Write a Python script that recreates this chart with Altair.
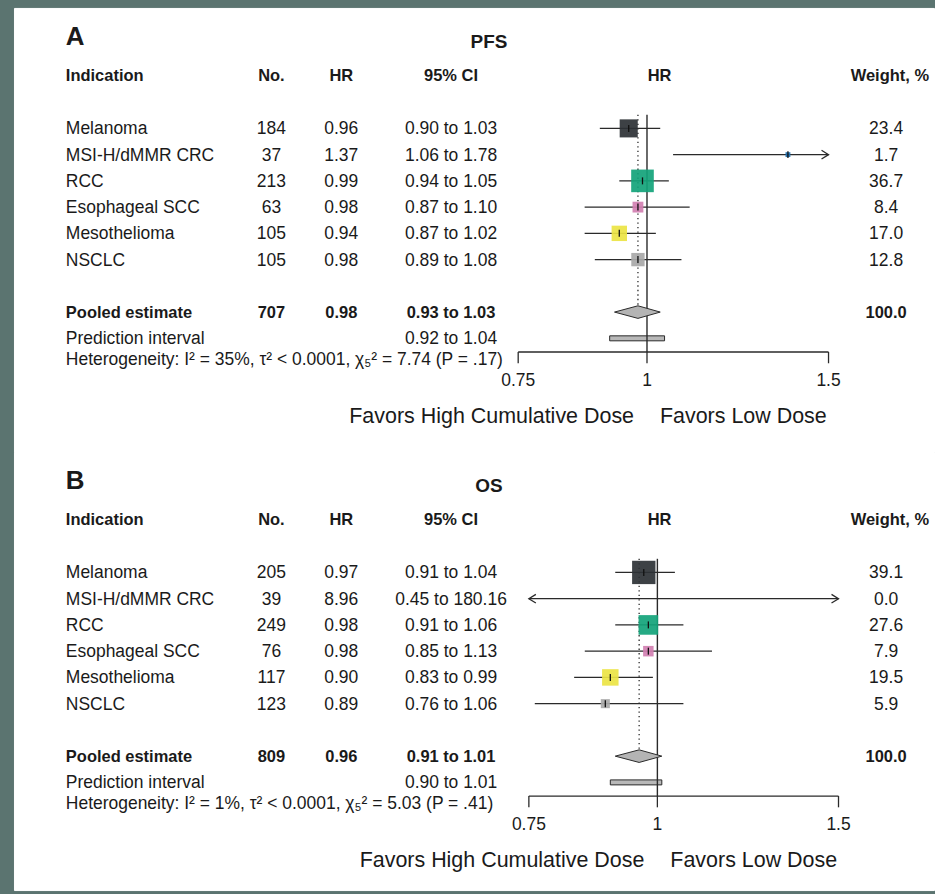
import altair as alt
import pandas as pd

# ---------------- data ----------------
indications = ["Melanoma", "MSI-H/dMMR CRC", "RCC", "Esophageal SCC", "Mesothelioma", "NSCLC"]
header_labels = ["Indication", "No.", "HR", "95% CI", "HR", "Weight, %"]
pooled_label = "Pooled estimate"
prediction_label = "Prediction interval"

pfs_n = [184, 37, 213, 63, 105, 105]
pfs_hr = [0.96, 1.37, 0.99, 0.98, 0.94, 0.98]
pfs_lo = [0.90, 1.06, 0.94, 0.87, 0.87, 0.89]
pfs_hi = [1.03, 1.78, 1.05, 1.10, 1.02, 1.08]
pfs_weight = [23.4, 1.7, 36.7, 8.4, 17.0, 12.8]
pfs_pooled = [707, 0.98, 0.93, 1.03, 100.0]   # n, HR, low, high, weight
pfs_prediction = [0.92, 1.04]
pfs_het = "Heterogeneity: I\u00b2 = 35%, \u03c4\u00b2 < 0.0001, \u03c7\u2085\u00b2 = 7.74 (P = .17)"

os_n = [205, 39, 249, 76, 117, 123]
os_hr = [0.97, 8.96, 0.98, 0.98, 0.90, 0.89]
os_lo = [0.91, 0.45, 0.91, 0.85, 0.83, 0.76]
os_hi = [1.04, 180.16, 1.06, 1.13, 0.99, 1.06]
os_weight = [39.1, 0.0, 27.6, 7.9, 19.5, 5.9]
os_pooled = [809, 0.96, 0.91, 1.01, 100.0]
os_prediction = [0.90, 1.01]
os_het = "Heterogeneity: I\u00b2 = 1%, \u03c4\u00b2 < 0.0001, \u03c7\u2085\u00b2 = 5.03 (P = .41)"

tick_values = [0.75, 1.0, 1.5]
tick_labels = ["0.75", "1", "1.5"]
favors_labels = ["Favors High Cumulative Dose", "Favors Low Dose"]

# ---------------- style ----------------
palette = ["#2c3135", "#1f70b0", "#12a37a", "#d17fb1", "#ece444", "#a8a8a8"]
FONT = "Liberation Sans"
INK = "#1a1a1a"
LINE = "#2a2a2a"
ROW = 26.3          # px per table row
ROW0 = 120.7        # px from panel top to first data row
W = 922
XMIN, XMAX = 0.75, 1.5


def panel(letter, title, n, hr, lo, hi, wt, pooled, pred, het, xrange, height):
    ys = alt.Scale(domain=[-ROW0 / ROW, (height - ROW0) / ROW], range=[0, height], nice=False, zero=False)
    xs = alt.Scale(type="log", domain=[XMIN, XMAX], range=list(xrange), nice=False)

    def X(f):
        return alt.X(f, scale=xs, axis=None)

    def Y(f):
        return alt.Y(f, scale=ys, axis=None)

    def text_layer(data, field, x, row="row", align="center", bold=False, size=17.5, dy=1):
        return alt.Chart(data).mark_text(
            font=FONT, fontSize=size, fontWeight="bold" if bold else "normal",
            align=align, baseline="middle", color=INK, dy=dy,
        ).encode(x=alt.value(x), y=Y(f"{row}:Q"), text=f"{field}:N")

    def one(s, r):
        return pd.DataFrame({"t": [s], "row": [r]})

    df = pd.DataFrame({
        "ind": indications, "row": list(range(len(indications))),
        "n": n, "hr": hr, "lo": lo, "hi": hi, "w": wt,
    })
    df["n_t"] = df["n"].astype(str)
    df["hr_t"] = [f"{v:.2f}" for v in hr]
    df["ci_t"] = [f"{a:.2f} to {b:.2f}" for a, b in zip(lo, hi)]
    df["w_t"] = [f"{v:.1f}" for v in wt]
    df["lo_c"] = df["lo"].clip(XMIN, XMAX)
    df["hi_c"] = df["hi"].clip(XMIN, XMAX)
    vis = df[(df["hr"] >= XMIN) & (df["hr"] <= XMAX)]
    sq = vis[vis["w"] > 0]
    arr_r = df[df["hi"] > XMAX]
    arr_l = df[df["lo"] < XMIN]

    p_n, p_hr, p_lo, p_hi, p_w = pooled
    pooled_row, pred_row = 7, 8
    axis_row = 8.52
    top_row = -0.52
    dh = 0.24

    layers = []
    # titles and headers
    layers.append(text_layer(one(letter, -3.5), "t", 52, align="left", bold=True, size=26, dy=0))
    layers.append(text_layer(one(title, -3.3), "t", 476, bold=True, size=19, dy=0))
    hx = [(52, "left"), (258, "center"), (328, "center"), (438, "center"), (647, "center"), (917, "right")]
    for lab, (x, al) in zip(header_labels, hx):
        layers.append(text_layer(one(lab, -1.96), "t", x, align=al, bold=True, size=16.5, dy=-1))

    # study rows
    layers.append(text_layer(df, "ind", 52, align="left"))
    layers.append(text_layer(df, "n_t", 258))
    layers.append(text_layer(df, "hr_t", 328))
    layers.append(text_layer(df, "ci_t", 438))
    layers.append(text_layer(df, "w_t", 874))

    # pooled / prediction
    layers.append(text_layer(one(pooled_label, pooled_row), "t", 52, align="left", bold=True, size=16.5))
    layers.append(text_layer(one(str(p_n), pooled_row), "t", 258, bold=True, size=16.5))
    layers.append(text_layer(one(f"{p_hr:.2f}", pooled_row), "t", 328, bold=True, size=16.5))
    layers.append(text_layer(one(f"{p_lo:.2f} to {p_hi:.2f}", pooled_row), "t", 438, bold=True, size=16.5))
    layers.append(text_layer(one(f"{p_w:.1f}", pooled_row), "t", 874, bold=True, size=16.5))
    layers.append(text_layer(one(prediction_label, pred_row), "t", 52, align="left"))
    layers.append(text_layer(one(f"{pred[0]:.2f} to {pred[1]:.2f}", pred_row), "t", 438))
    layers.append(text_layer(one(het, 8.84), "t", 52, align="left", dy=0))

    # ---- forest ----
    # prediction interval bar
    dpred = pd.DataFrame({"a": [pred[0]], "b": [pred[1]], "y1": [pred_row - 0.095], "y2": [pred_row + 0.095]})
    layers.append(alt.Chart(dpred).mark_rect(fill="#b8b8b8", stroke=LINE, strokeWidth=1).encode(
        x=X("a:Q"), x2=alt.X2("b:Q"), y=Y("y1:Q"), y2=alt.Y2("y2:Q")))
    # line of no effect
    dv = pd.DataFrame({"x": [1.0], "y1": [top_row], "y2": [axis_row]})
    layers.append(alt.Chart(dv).mark_rule(color=LINE, strokeWidth=1.4).encode(
        x=X("x:Q"), y=Y("y1:Q"), y2=alt.Y2("y2:Q")))
    # pooled dotted
    dd = pd.DataFrame({"x": [p_hr], "y1": [top_row], "y2": [pooled_row - dh]})
    layers.append(alt.Chart(dd).mark_rule(color=LINE, strokeWidth=1.3, strokeDash=[1.3, 3.2]).encode(
        x=X("x:Q"), y=Y("y1:Q"), y2=alt.Y2("y2:Q")))
    # CI lines
    layers.append(alt.Chart(df).mark_rule(color=LINE, strokeWidth=1.3).encode(
        x=X("lo_c:Q"), x2=alt.X2("hi_c:Q"), y=Y("row:Q")))
    # arrows
    if len(arr_r):
        layers.append(alt.Chart(arr_r).mark_point(shape="M-1,-0.62L0,0L-1,0.62", size=196, filled=False,
                                                  color=LINE, strokeWidth=1.3, opacity=1).encode(
            x=X("hi_c:Q"), y=Y("row:Q")))
    if len(arr_l):
        layers.append(alt.Chart(arr_l).mark_point(shape="M1,-0.62L0,0L1,0.62", size=196, filled=False,
                                                  color=LINE, strokeWidth=1.3, opacity=1).encode(
            x=X("lo_c:Q"), y=Y("row:Q")))
    # diamond
    ddia = pd.DataFrame({"x": [p_lo, p_hr, p_hi],
                         "ya": [pooled_row, pooled_row - dh, pooled_row],
                         "yb": [pooled_row, pooled_row + dh, pooled_row]})
    layers.append(alt.Chart(ddia).mark_area(orient="vertical", fill="#b4b4b4", stroke=LINE,
                                            strokeWidth=1, opacity=1).encode(
        x=X("x:Q"), y=Y("ya:Q"), y2=alt.Y2("yb:Q")))
    # squares
    layers.append(alt.Chart(sq).mark_square(opacity=0.92).encode(
        x=X("hr:Q"), y=Y("row:Q"),
        size=alt.Size("w:Q", scale=alt.Scale(domain=[0, 100], range=[0, 1400]), legend=None),
        color=alt.Color("ind:N", scale=alt.Scale(domain=indications, range=palette), legend=None)))
    # point-estimate ticks
    layers.append(alt.Chart(vis).mark_point(shape="M0,-1L0,1", size=49, filled=False, color="#111111",
                                            strokeWidth=1.3, opacity=1).encode(
        x=X("hr:Q"), y=Y("row:Q")))

    # axis
    dax = pd.DataFrame({"a": [XMIN], "b": [XMAX], "y": [axis_row]})
    layers.append(alt.Chart(dax).mark_rule(color=LINE, strokeWidth=1.3).encode(
        x=X("a:Q"), x2=alt.X2("b:Q"), y=Y("y:Q")))
    dt = pd.DataFrame({"v": tick_values, "lab": tick_labels, "y1": axis_row, "y2": axis_row + 0.43, "row": 9.6})
    layers.append(alt.Chart(dt).mark_rule(color=LINE, strokeWidth=1.3).encode(
        x=X("v:Q"), y=Y("y1:Q"), y2=alt.Y2("y2:Q")))
    layers.append(alt.Chart(dt).mark_text(font=FONT, fontSize=17.5, color=INK, baseline="middle", dy=1).encode(
        x=X("v:Q"), y=Y("row:Q"), text="lab:N"))
    # favors
    dfav = pd.DataFrame({"v": [1.0, 1.0], "t": favors_labels, "row": [11.0, 11.0]})
    layers.append(alt.Chart(dfav.iloc[[0]]).mark_text(font=FONT, fontSize=21.5, color=INK, align="right",
                                                     baseline="middle", dx=-13).encode(
        x=X("v:Q"), y=Y("row:Q"), text="t:N"))
    layers.append(alt.Chart(dfav.iloc[[1]]).mark_text(font=FONT, fontSize=21.5, color=INK, align="left",
                                                     baseline="middle", dx=13).encode(
        x=X("v:Q"), y=Y("row:Q"), text="t:N"))

    return alt.layer(*layers).properties(width=W, height=height)


pA = panel("A", "PFS", pfs_n, pfs_hr, pfs_lo, pfs_hi, pfs_weight, pfs_pooled, pfs_prediction, pfs_het,
           (505.3, 816.3), 445)
pB = panel("B", "OS", os_n, os_hr, os_lo, os_hi, os_weight, os_pooled, os_prediction, os_het,
           (516.0, 826.3), 439)

chart = alt.vconcat(pA, pB, spacing=0, bounds="flush").properties(
    padding={"left": 13, "top": 6, "right": 0, "bottom": 4},
    background="#5b7470",
).configure_view(fill="white", stroke="white", strokeWidth=1)

chart.save("out.html", embed_options={"renderer": "svg", "actions": False})
